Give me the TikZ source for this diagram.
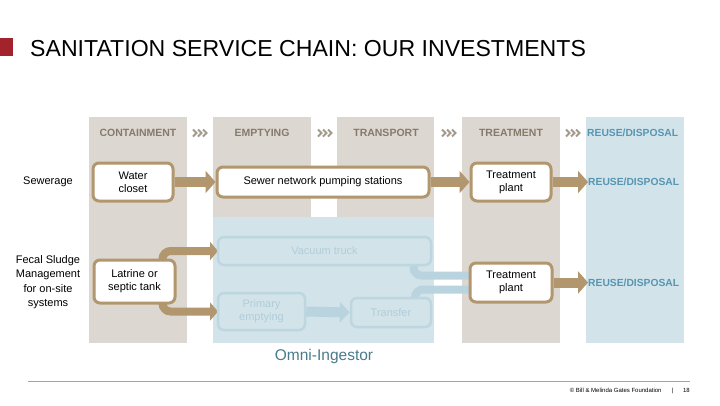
\documentclass[tikz,border=0pt]{standalone}
\usepackage{fontspec}
\setmainfont{Liberation Sans}
\usetikzlibrary{arrows.meta,calc}
\definecolor{colgray}{HTML}{DCD8D1}
\definecolor{colblue}{HTML}{D2E3EA}
\definecolor{hdrtxt}{HTML}{857A6B}
\definecolor{chev}{HTML}{A49A8C}
\definecolor{reuseblue}{HTML}{5796B2}
\definecolor{brownc}{HTML}{B2966E}
\definecolor{bluebord}{HTML}{BDD6E0}
\definecolor{bluetxt}{HTML}{B2CDD8}
\definecolor{bluearrow}{HTML}{B9D4DF}
\definecolor{titlered}{HTML}{A2232B}
\definecolor{omnic}{HTML}{4A7A8B}
\definecolor{footline}{HTML}{8FA9B5}
\tikzset{
  hdr/.style={font=\fontsize{10.5}{10.5}\selectfont\bfseries, text=hdrtxt, inner sep=0pt},
  reusetxt/.style={font=\fontsize{10.3}{10.3}\selectfont\bfseries, text=reuseblue, inner sep=0pt},
  brbox/.style={draw=brownc, line width=3pt, fill=white, rounded corners=6pt, align=center,
    font=\fontsize{11}{13}\selectfont, inner sep=0pt},
  blbox/.style={draw=bluebord, line width=2.5pt, fill=colblue, rounded corners=6pt, align=center,
    font=\fontsize{11}{13}\selectfont, text=bluetxt, inner sep=0pt},
  brarrow/.style={draw=brownc, line width=10pt, -{Triangle[width=22pt,length=10pt]}},
  brband/.style={draw=brownc, line width=8pt, rounded corners=8pt, -{Triangle[width=18pt,length=8pt]}},
  blarrow/.style={draw=bluearrow, line width=10pt, -{Triangle[width=20pt,length=10pt]}},
  blband/.style={draw=bluearrow, line width=8pt, rounded corners=8pt},
  sidelbl/.style={font=\fontsize{11}{14.5}\selectfont, align=center, inner sep=0pt},
  chevline/.style={draw=chev, line width=2pt}
}
\begin{document}
\begin{tikzpicture}[x=1pt,y=-1pt]
\useasboundingbox (0,0) rectangle (720,405);
\fill[white] (0,0) rectangle (720,405);
% title
\fill[titlered] (0,38) rectangle (13,56);
\node[anchor=base west, inner sep=0pt, font=\fontsize{23.1}{23}\selectfont] (title) at (30,56.5) {SANITATION SERVICE CHAIN: OUR INVESTMENTS};
% columns
\fill[colgray] (89,117) rectangle (187,343);
\fill[colgray] (213,117) rectangle (311,217);
\fill[colgray] (337,117) rectangle (434,217);
\fill[colgray] (462,117) rectangle (560,343);
\fill[colblue] (586,117) rectangle (684,343);
\fill[colblue] (213,217) rectangle (434,343);
% headers
\node[hdr] (h1) at (138,133) {CONTAINMENT};
\node[hdr] (h2) at (262,133) {EMPTYING};
\node[hdr] (h3) at (386,133) {TRANSPORT};
\node[hdr] (h4) at (511,133) {TREATMENT};
\node[reusetxt, anchor=west] (h5) at (587,133) {REUSE/DISPOSAL};
% chevrons
\foreach \cx in {193,318,442,566}{
  \foreach \i in {0,5,10}{
    \draw[chevline] (\cx+\i,129.5) -- (\cx+\i+3.5,133) -- (\cx+\i,136.5);
  }
}
% side labels
\node[sidelbl] (sew) at (48,182) {Sewerage};
\node[sidelbl] (fsm) at (48,282) {Fecal Sludge\\Management\\for on-site\\systems};
% node positions
\coordinate (wcpos) at (133,182);
\coordinate (sewpos) at (323,182);
\coordinate (tp1pos) at (511,182);
\coordinate (latpos) at (134.5,281.5);
\coordinate (tp2pos) at (511,282.5);
\coordinate (vacpos) at (324.5,251);
\coordinate (primpos) at (261.5,311.5);
\coordinate (transpos) at (391,312.5);
% blue connectors (behind boxes)
\path (vacpos) ++(89,14) coordinate (vacout);
\path (transpos) ++(24,-14.5) coordinate (transout);
\path (tp2pos) ++(-38,-7) coordinate (tpin1);
\path (tp2pos) ++(-38,7) coordinate (tpin2);
\draw[blband] (vacout) |- (tpin1);
\draw[blband] (transout) |- (tpin2);
% brown curved connectors from latrine
\path (latpos) ++(28,-21.5) coordinate (latout1);
\path (latpos) ++(28,21.5) coordinate (latout2);
\path (vacpos) ++(-106.5,0) coordinate (vacin);
\path (primpos) ++(-43.5,0) coordinate (primin);
\draw[brband] (latout1) |- (vacin);
\draw[brband] (latout2) |- (primin);
% boxes
\node[brbox, minimum width=80pt, minimum height=38pt] (wc) at (wcpos) {Water\\closet};
\node[brbox, minimum width=212pt, minimum height=30pt] (sewer) at (sewpos) {Sewer network pumping stations};
\node[brbox, minimum width=80pt, minimum height=38pt] (tp1) at (tp1pos) {Treatment\\plant};
\node[brbox, minimum width=81pt, minimum height=43pt] (lat) at (latpos) {Latrine or\\septic tank};
\node[brbox, minimum width=82pt, minimum height=39pt] (tp2) at (tp2pos) {Treatment\\plant};
\node[blbox, minimum width=213pt, minimum height=28pt] (vac) at (vacpos) {Vacuum truck};
\node[blbox, minimum width=87pt, minimum height=37pt] (prim) at (primpos) {Primary\\emptying};
\node[blbox, minimum width=80pt, minimum height=29pt] (trans) at (transpos) {Transfer};
\node[reusetxt, anchor=west] (r1) at (588,182) {REUSE/DISPOSAL};
\node[reusetxt, anchor=west] (r2) at (588,282.5) {REUSE/DISPOSAL};
% straight arrows
\draw[brarrow] (wc.east) -- (sewer.west);
\draw[brarrow] (sewer.east) -- (tp1.west);
\draw[brarrow] (tp1.east) -- (r1.west);
\draw[brarrow] (tp2.east) -- (r2.west);
\draw[blarrow] (prim.east) -- (trans.west);
% Omni-Ingestor
\node[font=\fontsize{15.5}{15}\selectfont, text=omnic, inner sep=0pt] (omni) at (324,356) {Omni-Ingestor};
% footer
\draw[footline, line width=1pt] (28,381) -- (690,381);
\node[anchor=east, inner sep=0pt, font=\fontsize{6}{6}\selectfont] (foot) at (690,391) {\textcopyright{} Bill \& Melinda Gates Foundation\hspace{10pt}|\hspace{10pt}18};
\end{tikzpicture}
\end{document}
